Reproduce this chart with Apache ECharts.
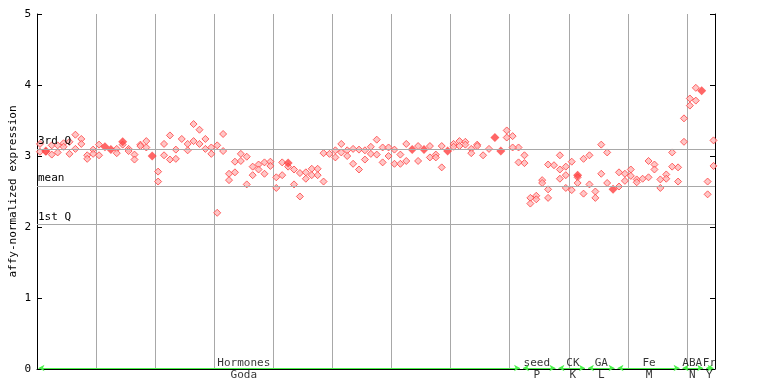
<!DOCTYPE html>
<html>
<head>
<meta charset="utf-8">
<script src="https://cdn.jsdelivr.net/npm/echarts@6/dist/echarts.min.js"></script>
<style>html,body{margin:0;padding:0;background:#fff}#c{width:768px;height:384px}</style>
</head>
<body>
<div id="c"></div>
<script>
// replicate values per sample (index = sample position), null = absent
var repA = [3.17,3.06,3.15,3.15,3.18,3.20,3.30,3.24,3.01,3.09,3.16,null,null,3.10,3.16,3.10,3.02,3.16,3.21,null,
2.78,3.17,3.29,3.09,3.24,3.17,3.45,3.37,3.24,3.12,3.15,3.31,2.75,2.92,3.03,2.99,2.85,2.88,2.91,2.92,
2.70,2.91,2.85,2.81,2.76,2.77,2.82,2.82,3.04,3.03,3.08,3.17,3.08,3.10,3.09,3.08,3.13,3.23,3.12,3.12,
3.09,3.02,3.17,null,3.14,null,3.14,3.02,3.14,null,3.17,3.21,3.20,3.10,3.16,3.01,3.10,null,null,3.36,
3.28,3.12,3.01,2.41,2.44,2.66,2.88,2.87,3.01,2.85,2.92,2.70,2.96,3.01,2.50,3.16,3.05,null,2.77,2.75,
2.81,2.67,2.68,2.93,2.88,2.67,2.74,3.05,2.84,3.53,3.81,3.96,null,2.64,3.22];
var repB = [3.06,null,3.02,3.05,3.13,3.03,3.10,3.17,2.96,3.03,3.01,null,null,3.04,null,3.07,2.95,3.14,3.12,null,
2.64,3.01,2.95,2.96,null,3.08,3.21,3.17,3.10,3.03,2.20,3.07,2.66,2.77,2.93,2.60,2.73,2.81,2.75,2.86,
2.55,2.73,null,2.60,2.43,2.68,2.73,2.73,2.64,null,2.98,3.05,3.00,2.89,2.81,2.95,3.03,3.02,2.91,3.00,
2.89,2.89,2.93,null,2.93,null,2.98,2.98,2.84,null,3.13,3.14,3.16,3.04,3.14,null,null,null,null,3.26,
3.12,2.91,2.90,2.33,2.39,2.62,2.53,null,2.81,2.73,2.52,2.62,2.47,2.60,2.41,2.75,2.62,null,2.57,2.65,
2.72,2.63,null,2.70,2.81,2.55,2.68,2.85,2.64,3.20,3.71,3.78,null,2.46,2.86];
var repC = {86:2.41, 88:2.68, 89:2.55};
var highlighted = {1:3.07, 11:3.13, 12:3.09, 14:3.20, 19:3.00, 42:2.90, 63:3.09, 65:3.09, 69:3.07,
  77:3.26, 78:3.07, 91:2.73, 97:2.53, 112:3.92};
var quartileNames = ['3rd Q','mean','1st Q'];
var quartileValues = [3.10, 2.58, 2.035];
var groupNames = ['Hormones','seed','CK','GA','Fe','ABA','Fr'];
var groupCodes = ['Goda','P','K','L','M','N','Y'];
var groupStart = [0,82,88,93,98,109,113];
var groupEnd = [82,88,93,98,109,113,114.75];
var groupLabelAt = [35,84.6,90.7,95.5,103.6,110.9,113.8];
var yTicks = [0,1,2,3,4,5];

var xMax = 114.75;
var FONT = 'DejaVu Sans Mono';
var RED = '#ff4040';

function pts(arr){
  var out=[];
  if (Array.isArray(arr)) { arr.forEach(function(v,i){ if(v!=null) out.push([i+0.5,v]); }); }
  else { Object.keys(arr).forEach(function(k){ out.push([+k+0.5, arr[k]]); }); }
  return out;
}
var hollow = pts(repA).concat(pts(repB)).concat(pts(repC));
var filled = pts(highlighted);

var GREEN_Y = 0.014;
var groupLines = groupStart.map(function(s,k){
  return [{coord:[s+0.25, GREEN_Y]},{coord:[groupEnd[k]-0.25, GREEN_Y]}];
});

var chart = echarts.init(document.getElementById('c'), null, {renderer:'canvas'});
chart.setOption({
  animation:false,
  backgroundColor:'#fff',
  textStyle:{fontFamily:FONT},
  grid:{left:37,right:53,top:14,bottom:15,containLabel:false,outerBoundsMode:'none'},
  xAxis:{type:'value',min:0,max:xMax,interval:10,
    axisLine:{show:true,onZero:false,lineStyle:{color:'#000',width:1}},
    axisTick:{show:false},axisLabel:{show:false},
    splitLine:{show:true,lineStyle:{color:'#a8a8a8',width:1}}},
  yAxis:[{type:'value',min:0,max:5,interval:1,position:'left',
    name:'affy-normalized expression',nameLocation:'middle',nameGap:18,nameMoveOverlap:false,
    nameTextStyle:{fontFamily:FONT,fontSize:11,color:'#000'},
    axisLine:{show:true,lineStyle:{color:'#000',width:1}},
    axisTick:{show:true,inside:true,length:5,lineStyle:{color:'#000'}},
    axisLabel:{show:true,margin:6,fontFamily:FONT,fontSize:11,color:'#000',
      formatter:function(v){return yTicks.indexOf(v)>=0?String(v):'';}},
    splitLine:{show:false}},
   {type:'value',min:0,max:5,interval:1,position:'right',
    axisLine:{show:true,lineStyle:{color:'#000',width:1}},
    axisTick:{show:true,inside:true,length:5,lineStyle:{color:'#000'}},
    axisLabel:{show:false},splitLine:{show:false}}],
  series:[
    {type:'scatter',name:'quartiles',data:[],z:1,
     markLine:{silent:true,symbol:['none','none'],animation:false,
       lineStyle:{color:'#a8a8a8',width:1,type:'solid'},
       label:{show:true,position:'insideStartTop',distance:[1,2],color:'#000',fontFamily:FONT,fontSize:11,
         formatter:function(p){return p.name;}},
       data:quartileValues.map(function(v,k){return {name:quartileNames[k],yAxis:v};})}},
    {type:'scatter',name:'samples',data:hollow,symbol:'diamond',symbolSize:7,z:3,
     itemStyle:{color:'#ffb8b8',borderColor:RED,borderWidth:1}},
    {type:'scatter',name:'highlighted',data:filled,symbol:'diamond',symbolSize:9,z:4,
     itemStyle:{color:RED,borderColor:RED,borderWidth:0}},
    {type:'scatter',name:'groups',z:5,symbolSize:0,
     data:groupLabelAt.map(function(x,k){return {value:[x,0],name:groupNames[k]};}),
     label:{show:true,position:'top',distance:0,color:'#000',fontFamily:FONT,fontSize:11,
       formatter:function(p){return p.name;}},
     markLine:{silent:true,symbol:['arrow','arrow'],symbolSize:[5,6],animation:false,
       lineStyle:{color:'#4cf04c',width:1,type:'solid'},label:{show:false},
       data:groupLines}},
    {type:'scatter',name:'codes',z:5,symbolSize:0,
     data:groupLabelAt.map(function(x,k){return {value:[x,0],name:groupCodes[k]};}),
     label:{show:true,position:'bottom',distance:1,color:'#000',fontFamily:FONT,fontSize:11,
       formatter:function(p){return p.name;}}}
  ]
});
</script>
</body>
</html>
